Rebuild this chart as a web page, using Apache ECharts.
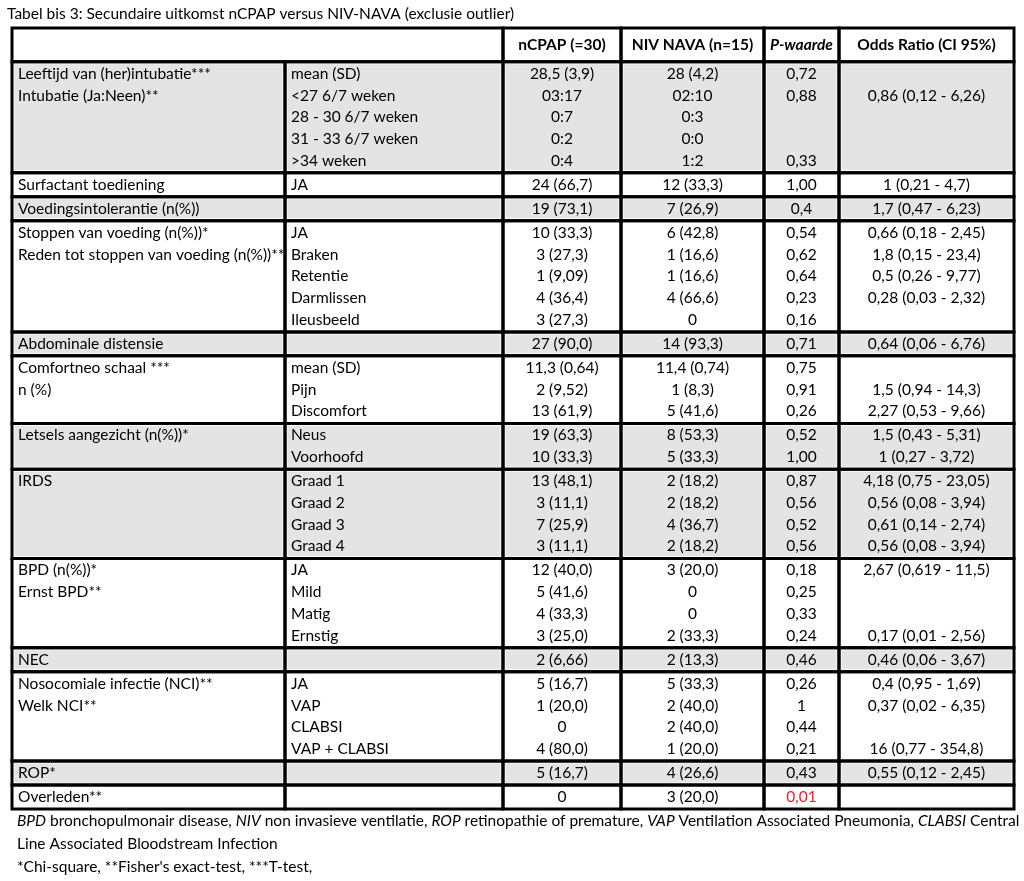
<!DOCTYPE html>
<html><head><meta charset="utf-8">
<script src="https://cdn.jsdelivr.net/npm/echarts@6/dist/echarts.min.js"></script>
<style>html,body{margin:0;padding:0;background:#fff}#c{width:1024px;height:881px}</style>
</head><body><div id="c"></div>
<script>
// ---------- DATA ----------
const tableTitle = 'Tabel bis 3: Secundaire uitkomst nCPAP versus NIV-NAVA (exclusie outlier)';
const headers = ['', '', 'nCPAP (=30)', 'NIV NAVA (n=15)', 'P-waarde', 'Odds Ratio (CI 95%)'];
const rowGroup = [0,0,0,0,0, 1, 2, 3,3,3,3,3, 4, 5,5,5, 6,6, 7,7,7,7, 8,8,8,8, 9, 10,10,10,10, 11, 12];
const shadedGroups = [true,false,true,false,true,false,true,true,false,true,false,true,false];
const variables = ['Leeftijd van (her)intubatie***','Intubatie (Ja:Neen)**','','','',
  'Surfactant toediening','Voedingsintolerantie (n(%))',
  'Stoppen van voeding (n(%))*','Reden tot stoppen van voeding (n(%))**','','','',
  'Abdominale distensie','Comfortneo schaal ***','n (%)','',
  'Letsels aangezicht (n(%))*','','IRDS','','','',
  'BPD (n(%))*','Ernst BPD**','','','NEC',
  'Nosocomiale infectie (NCI)**','Welk NCI**','','','ROP*','Overleden**'];
const subgroups = ['mean (SD)','<27 6/7 weken','28 - 30 6/7 weken','31 - 33 6/7 weken','>34 weken',
  'JA','','JA','Braken','Retentie','Darmlissen','Ileusbeeld','',
  'mean (SD)','Pijn','Discomfort','Neus','Voorhoofd',
  'Graad 1','Graad 2','Graad 3','Graad 4','JA','Mild','Matig','Ernstig','',
  'JA','VAP','CLABSI','VAP + CLABSI','',''];
const nCPAP = ['28,5 (3,9)','03:17','0:7','0:2','0:4','24 (66,7)','19 (73,1)',
  '10 (33,3)','3 (27,3)','1 (9,09)','4 (36,4)','3 (27,3)','27 (90,0)',
  '11,3 (0,64)','2 (9,52)','13 (61,9)','19 (63,3)','10 (33,3)',
  '13 (48,1)','3 (11,1)','7 (25,9)','3 (11,1)','12 (40,0)','5 (41,6)','4 (33,3)','3 (25,0)',
  '2 (6,66)','5 (16,7)','1 (20,0)','0','4 (80,0)','5 (16,7)','0'];
const nivNava = ['28 (4,2)','02:10','0:3','0:0','1:2','12 (33,3)','7 (26,9)',
  '6 (42,8)','1 (16,6)','1 (16,6)','4 (66,6)','0','14 (93,3)',
  '11,4 (0,74)','1 (8,3)','5 (41,6)','8 (53,3)','5 (33,3)',
  '2 (18,2)','2 (18,2)','4 (36,7)','2 (18,2)','3 (20,0)','0','0','2 (33,3)',
  '2 (13,3)','5 (33,3)','2 (40,0)','2 (40,0)','1 (20,0)','4 (26,6)','3 (20,0)'];
const pValues = ['0,72','0,88','','','0,33','1,00','0,4','0,54','0,62','0,64','0,23','0,16','0,71',
  '0,75','0,91','0,26','0,52','1,00','0,87','0,56','0,52','0,56','0,18','0,25','0,33','0,24',
  '0,46','0,26','1','0,44','0,21','0,43','0,01'];
const significantP = [32];
const oddsRatios = ['','0,86 (0,12 - 6,26)','','','','1 (0,21 - 4,7)','1,7 (0,47 - 6,23)',
  '0,66 (0,18 - 2,45)','1,8 (0,15 - 23,4)','0,5 (0,26 - 9,77)','0,28 (0,03 - 2,32)','','0,64 (0,06 - 6,76)',
  '','1,5 (0,94 - 14,3)','2,27 (0,53 - 9,66)','1,5 (0,43 - 5,31)','1 (0,27 - 3,72)',
  '4,18 (0,75 - 23,05)','0,56 (0,08 - 3,94)','0,61 (0,14 - 2,74)','0,56 (0,08 - 3,94)',
  '2,67 (0,619 - 11,5)','','','0,17 (0,01 - 2,56)','0,46 (0,06 - 3,67)',
  '0,4 (0,95 - 1,69)','0,37 (0,02 - 6,35)','','16 (0,77 - 354,8)','0,55 (0,12 - 2,45)',''];
const footnoteLines = [
  '{i|BPD} bronchopulmonair disease, {i|NIV} non invasieve ventilatie, {i|ROP} retinopathie of premature, {i|VAP} Ventilation Associated Pneumonia, {i|CLABSI} Central',
  'Line Associated Bloodstream Infection',
  '*Chi-square, **Fisher\'s exact-test, ***T-test,'
];

// ---------- LAYOUT ----------
const FONT = 'Lato';
const FS = 15.5;
const colWidths = [273, 218, 118, 143, 75, 175];
const HEADER_UNITS = 1.55, GROUP_PAD = 0.1;
const GREY = '#e4e4e4';

const colEdges = [0];
colWidths.forEach(w => colEdges.push(colEdges[colEdges.length - 1] + w));
const columns = [variables, subgroups, nCPAP, nivNava, pValues, oddsRatios];

// row geometry in line units
const groups = [];
const lineCenter = [];
let y = HEADER_UNITS;
rowGroup.forEach((g, i) => {
  if (i === 0 || rowGroup[i - 1] !== g) {
    if (groups.length) { groups[groups.length - 1].end = y + GROUP_PAD; y += GROUP_PAD; }
    groups.push({ start: y, end: null });
  }
  lineCenter.push(y + GROUP_PAD / 2 + 0.5);
  y += 1;
});
groups[groups.length - 1].end = y + GROUP_PAD;
const totalUnits = y + GROUP_PAD;

// cells
const cells = [];
cells.push({ x0: colEdges[0], x1: colEdges[2], y0: 0, y1: HEADER_UNITS, shade: false });
for (let c = 2; c < 6; c++) cells.push({ x0: colEdges[c], x1: colEdges[c + 1], y0: 0, y1: HEADER_UNITS, shade: false });
groups.forEach((g, gi) => {
  for (let c = 0; c < 6; c++) cells.push({ x0: colEdges[c], x1: colEdges[c + 1], y0: g.start, y1: g.end, shade: shadedGroups[gi] });
});

// texts
const texts = [];
for (let c = 2; c < 6; c++) texts.push({ x: (colEdges[c] + colEdges[c + 1]) / 2, y: HEADER_UNITS / 2, t: headers[c], align: 'center', bold: true, italic: c === 4, color: '#000' });
columns.forEach((col, c) => {
  col.forEach((t, i) => {
    if (!t) return;
    const left = c < 2;
    texts.push({
      x: left ? colEdges[c] : (colEdges[c] + colEdges[c + 1]) / 2,
      y: lineCenter[i], t, align: left ? 'left' : 'center', bold: false, italic: false,
      color: (c === 4 && significantP.includes(i)) ? '#e5202a' : '#000', pad: left ? 6 : 0
    });
  });
});

const chart = echarts.init(document.getElementById('c'), null, { renderer: 'canvas' });
chart.setOption({
  backgroundColor: '#fff',
  animation: false,
  grid: { left: 12, top: 28, width: colEdges[6], height: 781 },
  xAxis: { type: 'value', min: 0, max: colEdges[6], show: false },
  yAxis: { type: 'value', min: 0, max: totalUnits, inverse: true, show: false },
  graphic: [
    { type: 'text', x: 7, y: 14, style: { text: tableTitle, font: `${FS}px ${FONT}`, fill: '#000', verticalAlign: 'middle' } },
    ...footnoteLines.map((t, k) => ({
      type: 'text', x: 17, y: 821 + k * 23,
      style: { text: t, font: `${FS}px ${FONT}`, fill: '#000', verticalAlign: 'middle',
        rich: { i: { fontStyle: 'italic', fontFamily: FONT, fontSize: FS, verticalAlign: 'middle' } } }
    }))
  ],
  series: [
    {
      type: 'custom', coordinateSystem: 'cartesian2d', z: 1, clip: false,
      data: cells.map(c => [c.x0, c.y0]),
      renderItem: (params, api) => {
        const c = cells[params.dataIndex];
        const p0 = api.coord([c.x0, c.y0]), p1 = api.coord([c.x1, c.y1]);
        const ins = 2.5;
        return { type: 'rect', shape: { x: p0[0] + ins, y: p0[1] + ins, width: p1[0] - p0[0] - 2 * ins, height: p1[1] - p0[1] - 2 * ins },
          style: { fill: c.shade ? GREY : '#fff' } };
      }
    },
    {
      type: 'custom', coordinateSystem: 'cartesian2d', z: 2, clip: false,
      data: cells.map(c => [c.x0, c.y0]),
      renderItem: (params, api) => {
        const c = cells[params.dataIndex];
        const p0 = api.coord([c.x0, c.y0]), p1 = api.coord([c.x1, c.y1]);
        return { type: 'rect', shape: { x: p0[0], y: p0[1], width: p1[0] - p0[0], height: p1[1] - p0[1] },
          style: { fill: 'none', stroke: '#000', lineWidth: 3 } };
      }
    },
    {
      type: 'custom', coordinateSystem: 'cartesian2d', z: 3, clip: false,
      data: texts.map(t => [t.x, t.y]),
      renderItem: (params, api) => {
        const t = texts[params.dataIndex];
        const p = api.coord([t.x, t.y]);
        return { type: 'text', x: p[0] + (t.pad || 0), y: p[1],
          style: { text: t.t, align: t.align, verticalAlign: 'middle', fill: t.color,
            font: `${t.italic ? 'italic ' : ''}${t.bold ? 'bold ' : ''}${FS}px ${FONT}` } };
      }
    }
  ]
});
</script></body></html>
